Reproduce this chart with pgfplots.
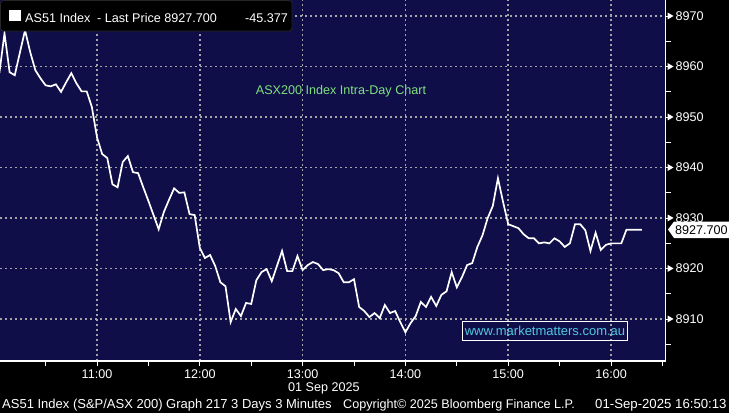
\documentclass[border=0pt]{standalone}
\usepackage{fontspec}
\setmainfont{Liberation Sans}
\usepackage{pgfplots}
\pgfplotsset{compat=1.18}
\definecolor{navy}{RGB}{16,14,72}
\definecolor{gridc}{RGB}{165,165,165}
\definecolor{greentxt}{RGB}{125,225,125}
\definecolor{cyantxt}{RGB}{80,200,225}
\newcommand{\tri}{\tikz[baseline=-1pt]\fill[white] (0,0)--(0,7pt)--(6pt,3.5pt)--cycle;}
\pgfplotstableread{
t v
3 8958.7
6 8966.6
9 8958.9
12 8958.3
15 8962.8
18 8967.2
21 8962.9
24 8959.3
27 8957.7
30 8956.3
33 8956.1
36 8956.5
39 8955.0
42 8956.9
45 8958.7
48 8956.7
51 8955.1
54 8955.1
57 8952.0
60 8946.0
63 8942.7
66 8941.9
69 8936.7
72 8936.1
75 8941.1
78 8942.3
81 8939.1
84 8938.9
87 8936.1
90 8933.4
93 8930.6
96 8927.8
99 8931.2
102 8933.6
105 8935.9
108 8935.0
111 8935.1
114 8930.8
117 8930.6
120 8924.1
123 8922.1
126 8922.7
129 8920.5
132 8917.3
135 8916.5
138 8909.4
141 8912.0
144 8910.6
147 8913.2
150 8913.0
153 8917.7
156 8919.3
159 8919.9
162 8917.5
165 8920.5
168 8923.5
171 8919.5
174 8919.5
177 8922.5
180 8919.7
183 8920.7
186 8921.3
189 8920.9
192 8919.7
195 8919.9
198 8919.7
201 8919.1
204 8917.3
207 8917.3
210 8917.9
213 8912.4
216 8911.6
219 8910.4
222 8911.2
225 8910.2
228 8912.8
231 8911.2
234 8911.6
237 8909.4
240 8907.4
243 8909.2
246 8910.6
249 8913.4
252 8912.4
255 8914.4
258 8912.6
261 8914.8
264 8915.5
267 8919.3
270 8916.3
273 8918.3
276 8920.7
279 8921.1
282 8924.3
285 8926.6
288 8930.0
291 8932.4
294 8937.9
297 8933.2
300 8928.8
303 8928.4
306 8928.0
309 8926.8
312 8926.0
315 8926.0
318 8925.0
321 8925.2
324 8925.0
327 8926.0
330 8925.4
333 8924.3
336 8925.0
339 8928.8
342 8928.8
345 8927.6
348 8923.5
351 8927.1
354 8923.7
357 8924.7
360 8925.0
363 8925.0
366 8925.0
369 8927.7
372 8927.7
375 8927.7
378 8927.7
}\asx
\begin{document}
\begin{tikzpicture}[x=1pt,y=1pt]
\fill[black] (0,0) rectangle (729,-413);
\useasboundingbox (0,0) rectangle (729,-413);
\begin{axis}[
  at={(0pt,0pt)}, anchor=north west,
  scale only axis, width=665.5pt, height=361pt,
  xmin=3.38, xmax=391.8, ymin=8901.7, ymax=8973.2,
  axis background/.style={fill=navy},
  axis x line*=bottom, axis y line*=right,
  axis line style={white, line width=1.3pt},
  xtick={60,120,...,360},
  xticklabels={11:00,12:00,13:00,14:00,15:00,16:00},
  minor xtick={30,90,...,390},
  ytick={8910,8920,...,8970},
  yticklabels={\tri\,8910,\tri\,8920,\tri\,8930,\tri\,8940,\tri\,8950,\tri\,8960,\tri\,8970},
  minor ytick={8905,8915,...,8965},
  grid=major,
  major grid style={gridc, line width=1.6pt, dash pattern=on 1.8pt off 3.2pt},
  tick align=outside,
  major tick length=5pt, minor tick length=5pt,
  tick style={white, line width=1pt},
  xticklabel style={text=white, font=\fontsize{12.6}{13}\selectfont},
  yticklabel style={text=white, font=\fontsize{12.6}{13}\selectfont, anchor=west, xshift=-6.5pt},
  clip=true,
]
\addplot[white, line width=1.7pt] table[x=t, y=v] {\asx};
\end{axis}
% legend box
\draw[fill=black, draw=black!70!gray, line width=0.8pt, rounded corners=3pt] (0.5,-0.5) rectangle (292,-31);
\fill[white] (9,-10) rectangle (21,-21);
\node[anchor=base west, inner sep=0, text=white, font=\fontsize{12.6}{13}\selectfont] at (25,-22) {AS51 Index};
\node[anchor=base west, inner sep=0, text=white, font=\fontsize{12.6}{13}\selectfont] at (97,-22) {- Last Price 8927.700};
\node[anchor=base west, inner sep=0, text=white, font=\fontsize{12.6}{13}\selectfont] at (245,-22) {-45.377};
% annotation
\node[anchor=base, inner sep=0, text=greentxt, font=\fontsize{12.6}{13}\selectfont] at (341,-94) {ASX200 Index Intra-Day Chart};
% watermark
\draw[white, line width=1pt] (462,-321) rectangle (627,-340);
\node[anchor=base, inner sep=0, text=cyantxt, font=\fontsize{13}{13}\selectfont] at (545,-335) {www.marketmatters.com.au};
% last price label
\fill[white] (668,-229.5) -- (674,-221.5) -- (729,-221.5) -- (729,-238) -- (674,-238) -- cycle;
\node[anchor=base west, inner sep=0, text=black, font=\fontsize{12.6}{13}\selectfont] at (675,-234) {8927.700};
% date and footer
\node[anchor=base west, inner sep=0, text=white, font=\fontsize{12.6}{13}\selectfont] at (288,-391) {01 Sep 2025};
\node[anchor=base west, inner sep=0, text=white, font=\fontsize{13}{13}\selectfont] at (2,-408) {AS51 Index (S\&P/ASX 200) Graph 217 3 Days 3 Minutes};
\node[anchor=base west, inner sep=0, text=white, font=\fontsize{12.6}{13}\selectfont] at (343,-408) {Copyright© 2025 Bloomberg Finance L.P.};
\node[anchor=base west, inner sep=0, text=white, font=\fontsize{13.2}{13}\selectfont] at (595,-408) {01-Sep-2025 16:50:13};
\end{tikzpicture}
\end{document}
